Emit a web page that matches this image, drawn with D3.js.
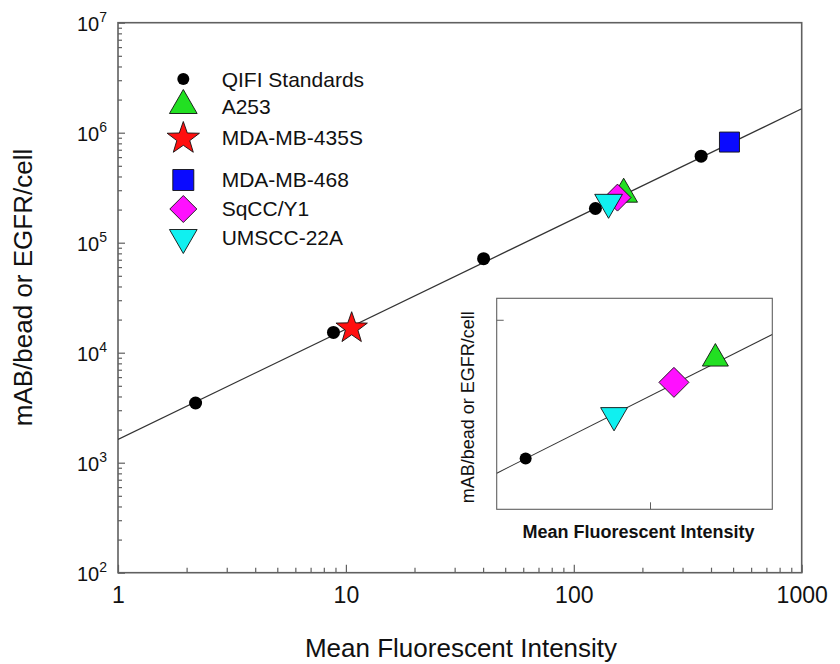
<!DOCTYPE html>
<html><head><meta charset="utf-8">
<script src="https://cdn.jsdelivr.net/npm/d3@7"></script>
<style>
body{margin:0;background:#fff}
svg{display:block}
text{font-family:"Liberation Sans",Arial,Helvetica,sans-serif;fill:#111}
</style>
</head><body>
<svg id="c" width="840" height="664"></svg>
<script>
// ---------- data ----------
const xTickValues = [1, 10, 100, 1000];
const yTickExponents = [2, 3, 4, 5, 6, 7];
const qifiX = [2.19, 8.82, 40.2, 124.4, 362];
const qifiY = [3490, 15300, 71600, 204600, 612000];
const cellLines = ["A253", "MDA-MB-435S", "MDA-MB-468", "SqCC/Y1", "UMSCC-22A"];
const cellX = [165.5, 10.6, 482, 155.5, 142.1];
const cellY = [276000, 16700, 822000, 257000, 232800];
const fitX = [1, 1000];
const fitY = [1630, 1650000];
const legendLabels = ["QIFI Standards", "A253", "MDA-MB-435S", "MDA-MB-468", "SqCC/Y1", "UMSCC-22A"];
const insetXDomain = [119.1, 180.3];
const insetYDomain = [175700, 330600];
const insetXTicks = [150];
const insetYTicks = [310000];
const insetQifiIndex = [3];
const insetCells = ["UMSCC-22A", "SqCC/Y1", "A253"];

// ---------- styles ----------
const style = {
  "QIFI Standards": {shape: "circle", color: "#000", s: 6.5, si: 6, sl: 6},
  "A253": {shape: "triUp", color: "#22e022", s: 16, si: 15, sl: 16},
  "MDA-MB-435S": {shape: "star", color: "#ff1010", s: 16.5, si: 16, sl: 17},
  "MDA-MB-468": {shape: "square", color: "#0a0aff", s: 10, si: 10, sl: 10.5},
  "SqCC/Y1": {shape: "diamond", color: "#ff10ff", s: 13.5, si: 15, sl: 13.5},
  "UMSCC-22A": {shape: "triDown", color: "#10f0f0", s: 16, si: 15.5, sl: 16}
};

function marker(shape, s) {
  const p = d3.path();
  if (shape === "circle") { p.arc(0, 0, s, 0, 2 * Math.PI); }
  else if (shape === "triUp") { p.moveTo(0, -s); p.lineTo(s * 0.866, s / 2); p.lineTo(-s * 0.866, s / 2); p.closePath(); }
  else if (shape === "triDown") { p.moveTo(0, s); p.lineTo(s * 0.866, -s / 2); p.lineTo(-s * 0.866, -s / 2); p.closePath(); }
  else if (shape === "square") { p.rect(-s, -s, 2 * s, 2 * s); }
  else if (shape === "diamond") { p.moveTo(0, -s); p.lineTo(s, 0); p.lineTo(0, s); p.lineTo(-s, 0); p.closePath(); }
  else if (shape === "star") {
    for (let i = 0; i < 10; i++) {
      const r = i % 2 ? s * 0.4 : s;
      const a = -Math.PI / 2 + i * Math.PI / 5;
      const px = r * Math.cos(a), py = r * Math.sin(a);
      if (i === 0) p.moveTo(px, py); else p.lineTo(px, py);
    }
    p.closePath();
  }
  return p.toString();
}

const svg = d3.select("#c");
const L = 118, R = 801.7, T = 22.7, B = 572.7;
const x = d3.scaleLog().domain([1, 1000]).range([L, R]);
const y = d3.scaleLog().domain([100, 1e7]).range([B, T]);
const frameColor = "#606060";

// minor tick values
const xMinor = [], yMinor = [];
for (let e = 0; e < 3; e++) for (let m = 2; m <= 9; m++) xMinor.push(m * Math.pow(10, e));
for (let e = 2; e < 7; e++) for (let m = 2; m <= 9; m++) yMinor.push(m * Math.pow(10, e));

// x axis
const gx = svg.append("g").attr("transform", `translate(0,${B})`);
gx.append("g").call(d3.axisBottom(x).tickValues(xMinor).tickSize(-5).tickSizeOuter(0).tickFormat(""))
  .call(g => g.select(".domain").remove());
gx.append("g").call(d3.axisBottom(x).tickValues(xTickValues).tickSize(-8).tickSizeOuter(0).tickPadding(14).tickFormat(d3.format("d")))
  .call(g => g.select(".domain").remove())
  .call(g => g.selectAll("text").attr("font-size", 23).attr("font-family", null).style("fill", "#111"));
gx.selectAll("line").attr("stroke", frameColor).attr("stroke-width", 1.2);

// y axis
const gy = svg.append("g").attr("transform", `translate(${L},0)`);
gy.append("g").call(d3.axisLeft(y).tickValues(yMinor).tickSize(-4).tickSizeOuter(0).tickFormat(""))
  .call(g => g.select(".domain").remove());
gy.append("g").call(d3.axisLeft(y).tickValues(yTickExponents.map(e => Math.pow(10, e))).tickSize(-7).tickSizeOuter(0).tickFormat(""))
  .call(g => g.select(".domain").remove())
  .call(g => g.selectAll(".tick").each(function (d) {
    const t = d3.select(this).append("text").attr("x", -11).attr("dy", 7.3)
      .attr("text-anchor", "end").attr("font-size", 20).style("fill", "#111");
    t.append("tspan").text("10");
    t.append("tspan").attr("dy", -9).attr("font-size", 14).text(String(Math.round(Math.log10(d))));
  }));
gy.selectAll("line").attr("stroke", frameColor).attr("stroke-width", 1.2);

// frame
svg.append("rect").attr("x", L).attr("y", T).attr("width", R - L).attr("height", B - T)
  .attr("fill", "none").attr("stroke", frameColor).attr("stroke-width", 1.6);

// clip main
svg.append("clipPath").attr("id", "mainClip").append("rect")
  .attr("x", L).attr("y", T).attr("width", R - L).attr("height", B - T);

// fit line
const fitData = fitX.map((v, i) => [v, fitY[i]]);
svg.append("path").datum(fitData).attr("clip-path", "url(#mainClip)")
  .attr("d", d3.line().x(d => x(d[0])).y(d => y(d[1])))
  .attr("fill", "none").attr("stroke", "#333").attr("stroke-width", 1.3);

// points main
function drawPoint(g, name, px, py, size) {
  const st = style[name];
  g.append("path").attr("d", marker(st.shape, size))
    .attr("transform", `translate(${px},${py})`)
    .attr("fill", st.color)
    .attr("stroke", st.shape === "circle" ? "none" : "#111")
    .attr("stroke-width", 0.9);
}
const gp = svg.append("g");
qifiX.forEach((v, i) => drawPoint(gp, "QIFI Standards", x(v), y(qifiY[i]), style["QIFI Standards"].s));
cellLines.forEach((n, i) => drawPoint(gp, n, x(cellX[i]), y(cellY[i]), style[n].s));

// legend
const legRowsSym = [79, 105.5, 138.5, 180, 209, 237.5];
const legRowsTxt = [79, 106, 137.7, 179.3, 208.3, 237.3];
const gl = svg.append("g");
legendLabels.forEach((n, i) => {
  drawPoint(gl, n, 183.3, legRowsSym[i], style[n].sl);
  gl.append("text").attr("x", 221.7).attr("y", legRowsTxt[i] + 7.5).attr("font-size", 21).text(n);
});

// axis titles
svg.append("text").attr("x", 461).attr("y", 657).attr("text-anchor", "middle").attr("font-size", 26)
  .text("Mean Fluorescent Intensity");
svg.append("text").attr("transform", "translate(32,287.5) rotate(-90)").attr("text-anchor", "middle")
  .attr("font-size", 26).text("mAB/bead or EGFR/cell");

// ---------- inset ----------
const iL = 496.7, iR = 772.3, iT = 298.3, iB = 509.3;
const ix = d3.scaleLog().domain(insetXDomain).range([iL, iR]);
const iy = d3.scaleLog().domain(insetYDomain).range([iB, iT]);
svg.append("rect").attr("x", iL).attr("y", iT).attr("width", iR - iL).attr("height", iB - iT)
  .attr("fill", "#fff").attr("stroke", "none");
svg.append("clipPath").attr("id", "insetClip").append("rect")
  .attr("x", iL).attr("y", iT).attr("width", iR - iL).attr("height", iB - iT);
svg.append("g").attr("transform", `translate(0,${iB})`)
  .call(d3.axisBottom(ix).tickValues(insetXTicks).tickSize(-7).tickSizeOuter(0).tickFormat(""))
  .call(g => g.select(".domain").remove())
  .call(g => g.selectAll("line").attr("stroke", frameColor));
svg.append("g").attr("transform", `translate(${iL},0)`)
  .call(d3.axisLeft(iy).tickValues(insetYTicks).tickSize(-7).tickSizeOuter(0).tickFormat(""))
  .call(g => g.select(".domain").remove())
  .call(g => g.selectAll("line").attr("stroke", frameColor));
svg.append("path").datum(fitData).attr("clip-path", "url(#insetClip)")
  .attr("d", d3.line().x(d => ix(d[0])).y(d => iy(d[1])))
  .attr("fill", "none").attr("stroke", "#333").attr("stroke-width", 1.1);
const gi = svg.append("g");
insetQifiIndex.forEach(i => drawPoint(gi, "QIFI Standards", ix(qifiX[i]), iy(qifiY[i]), style["QIFI Standards"].si));
insetCells.forEach(n => {
  const i = cellLines.indexOf(n);
  drawPoint(gi, n, ix(cellX[i]), iy(cellY[i]), style[n].si);
});
svg.append("rect").attr("x", iL).attr("y", iT).attr("width", iR - iL).attr("height", iB - iT)
  .attr("fill", "none").attr("stroke", frameColor).attr("stroke-width", 1.1);
svg.append("text").attr("x", 638.5).attr("y", 538.3).attr("text-anchor", "middle")
  .attr("font-size", 18).attr("font-weight", "bold").text("Mean Fluorescent Intensity");
svg.append("text").attr("transform", "translate(473.5,407.3) rotate(-90)").attr("text-anchor", "middle")
  .attr("font-size", 18).text("mAB/bead or EGFR/cell");
</script>
</body></html>
